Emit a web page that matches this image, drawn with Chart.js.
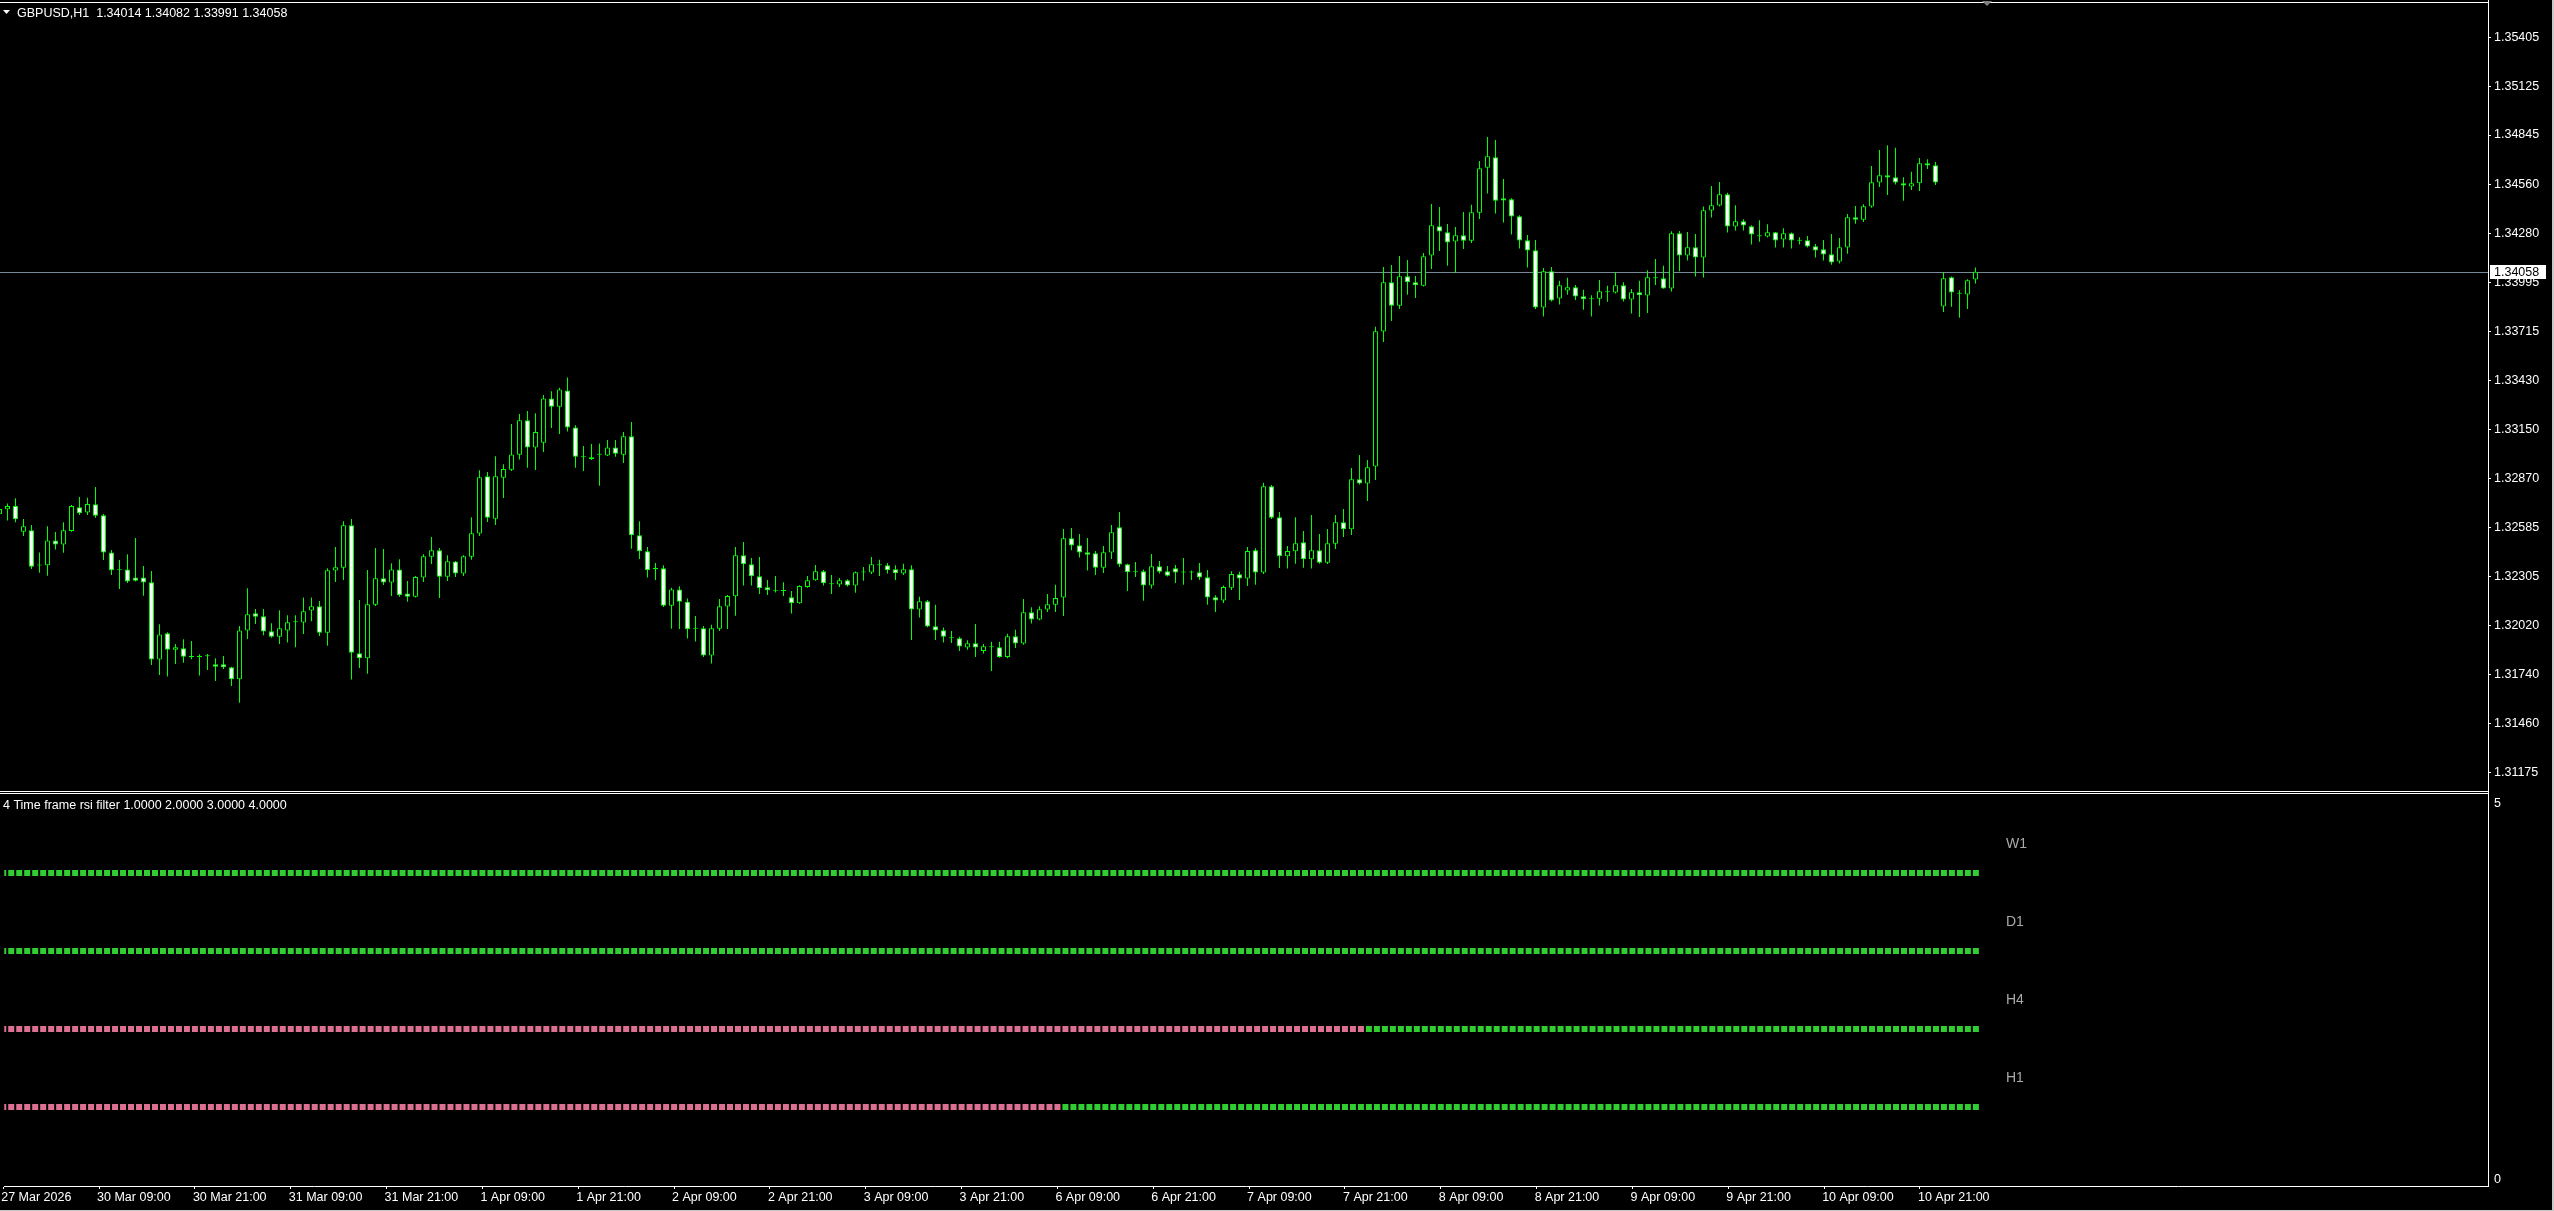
<!DOCTYPE html>
<html><head><meta charset="utf-8">
<script src="https://cdn.jsdelivr.net/npm/chart.js@4.4.1/dist/chart.umd.min.js"></script>
<style>
html,body{margin:0;padding:0;background:#000;overflow:hidden;}
#wrap{position:relative;width:2554px;height:1211px;background:#000;}
canvas{position:absolute;left:0;top:0;}
</style></head><body>
<div id="wrap">
<canvas id="ind" width="2554" height="1211" style="width:2554px;height:1211px"></canvas>
<canvas id="main" width="2554" height="1211" style="width:2554px;height:1211px"></canvas>
</div>
<script>
// ---------- DATA ----------
const symbol = 'GBPUSD,H1';
const indicatorName = 'Time frame rsi filter';

const opens = [
1.32662,1.32691,1.32710,1.32562,1.32570,1.32369,1.32369,1.32512,1.32489,1.32566,
1.32702,1.32672,1.32720,1.32656,1.32443,1.32344,1.32345,1.32298,1.32299,1.32271,
1.31826,1.31977,1.31883,1.31891,1.31845,1.31845,1.31845,1.31799,1.31799,1.31782,
1.31713,1.31994,1.32092,1.32075,1.31989,1.31958,1.31993,1.32041,1.32039,1.32108,
1.32133,1.31981,1.32338,1.32355,1.32599,1.31862,1.31833,1.32142,1.32294,1.32269,
1.32345,1.32207,1.32188,1.32298,1.32418,1.32455,1.32303,1.32390,1.32321,1.32418,
1.32551,1.32881,1.32637,1.32873,1.32919,1.33005,1.33203,1.33046,1.33074,1.33329,
1.33281,1.33375,1.33161,1.32996,1.32990,1.33007,1.33001,1.33046,1.33005,1.33111,
1.32541,1.32449,1.32349,1.32351,1.32136,1.32230,1.32159,1.32006,1.32006,1.31849,
1.32004,1.32131,1.32190,1.32426,1.32375,1.32306,1.32242,1.32223,1.32225,1.32185,
1.32150,1.32244,1.32283,1.32334,1.32263,1.32258,1.32283,1.32252,1.32329,1.32327,
1.32373,1.32369,1.32346,1.32321,1.32346,1.32114,1.32162,1.32018,1.31995,1.31953,
1.31949,1.31895,1.31920,1.31876,1.31901,1.31897,1.31841,1.31960,1.31918,1.32098,
1.32056,1.32114,1.32142,1.32183,1.32524,1.32484,1.32444,1.32438,1.32355,1.32442,
1.32587,1.32375,1.32332,1.32334,1.32252,1.32363,1.32334,1.32352,1.32330,1.32330,
1.32329,1.32300,1.32185,1.32166,1.32240,1.32317,1.32292,1.32455,1.32327,1.32823,
1.32645,1.32421,1.32449,1.32501,1.32403,1.32455,1.32384,1.32493,1.32616,1.32576,
1.32864,1.32839,1.32937,1.33714,1.33998,1.33863,1.34032,1.33998,1.33978,1.34151,
1.34320,1.34285,1.34232,1.34268,1.34237,1.34398,1.34657,1.34717,1.34481,1.34475,
1.34378,1.34240,1.34182,1.33852,1.34061,1.33904,1.33950,1.33969,1.33917,1.33904,
1.33902,1.33944,1.33938,1.33981,1.33898,1.33940,1.33921,1.34025,1.34021,1.33961,
1.34280,1.34151,1.34199,1.34140,1.34410,1.34439,1.34504,1.34318,1.34349,1.34320,
1.34266,1.34261,1.34286,1.34243,1.34280,1.34240,1.34240,1.34205,1.34188,1.34159,
1.34117,1.34197,1.34372,1.34358,1.34433,1.34571,1.34614,1.34602,1.34568,1.34548,
1.34568,1.34683,1.34671,1.33858,1.34027,1.33935,1.33927,1.34014
];
const highs = [
1.32696,1.32725,1.32754,1.32635,1.32601,1.32443,1.32593,1.32560,1.32616,1.32716,
1.32762,1.32758,1.32819,1.32664,1.32457,1.32399,1.32432,1.32526,1.32365,1.32336,
1.32029,1.31983,1.31916,1.31943,1.31933,1.31856,1.31858,1.31833,1.31847,1.31785,
1.32019,1.32236,1.32117,1.32117,1.32035,1.32110,1.32081,1.32081,1.32184,1.32184,
1.32163,1.32351,1.32474,1.32622,1.32635,1.32169,1.32342,1.32468,1.32462,1.32380,
1.32403,1.32278,1.32307,1.32432,1.32532,1.32468,1.32426,1.32393,1.32426,1.32645,
1.32915,1.32906,1.32996,1.32950,1.33182,1.33239,1.33257,1.33243,1.33349,1.33370,
1.33391,1.33450,1.33174,1.33055,1.33067,1.33070,1.33090,1.33090,1.33136,1.33193,
1.32622,1.32474,1.32382,1.32369,1.32240,1.32248,1.32177,1.32077,1.32020,1.32026,
1.32175,1.32198,1.32474,1.32503,1.32411,1.32417,1.32284,1.32307,1.32271,1.32221,
1.32254,1.32307,1.32371,1.32342,1.32313,1.32296,1.32288,1.32333,1.32359,1.32417,
1.32400,1.32382,1.32369,1.32377,1.32369,1.32187,1.32169,1.32141,1.32010,1.31991,
1.31958,1.31937,1.32031,1.31916,1.31928,1.31928,1.31974,1.31997,1.32175,1.32127,
1.32133,1.32204,1.32256,1.32578,1.32584,1.32549,1.32526,1.32451,1.32480,1.32601,
1.32676,1.32378,1.32388,1.32344,1.32434,1.32394,1.32365,1.32371,1.32411,1.32338,
1.32382,1.32342,1.32196,1.32252,1.32334,1.32332,1.32474,1.32467,1.32843,1.32831,
1.32676,1.32480,1.32645,1.32566,1.32658,1.32549,1.32578,1.32658,1.32693,1.32929,
1.33004,1.32975,1.33741,1.34086,1.34097,1.34149,1.34126,1.34034,1.34166,1.34448,
1.34431,1.34333,1.34316,1.34402,1.34443,1.34696,1.34834,1.34817,1.34592,1.34481,
1.34383,1.34270,1.34241,1.34080,1.34086,1.34006,1.34023,1.33982,1.33954,1.33923,
1.34011,1.33977,1.34057,1.33998,1.33959,1.34006,1.34067,1.34132,1.34092,1.34291,
1.34293,1.34287,1.34276,1.34433,1.34552,1.34575,1.34512,1.34441,1.34360,1.34326,
1.34355,1.34332,1.34287,1.34309,1.34284,1.34257,1.34264,1.34218,1.34241,1.34276,
1.34253,1.34391,1.34437,1.34447,1.34667,1.34759,1.34786,1.34771,1.34602,1.34633,
1.34713,1.34706,1.34690,1.34057,1.34031,1.33952,1.34015,1.34082
];
const lows = [
1.32658,1.32626,1.32616,1.32537,1.32347,1.32326,1.32309,1.32459,1.32441,1.32562,
1.32658,1.32658,1.32643,1.32399,1.32313,1.32232,1.32267,1.32275,1.32194,1.31795,
1.31737,1.31728,1.31801,1.31808,1.31828,1.31734,1.31766,1.31703,1.31772,1.31674,
1.31578,1.31945,1.32031,1.31966,1.31952,1.31916,1.31924,1.31897,1.31973,1.32046,
1.31962,1.31906,1.32273,1.32284,1.31711,1.31778,1.31745,1.32134,1.32255,1.32192,
1.32188,1.32159,1.32184,1.32273,1.32376,1.32181,1.32278,1.32301,1.32307,1.32401,
1.32537,1.32618,1.32601,1.32756,1.32911,1.32977,1.32930,1.32917,1.33021,1.33159,
1.33124,1.33138,1.32930,1.32911,1.32975,1.32827,1.32998,1.32994,1.32957,1.32464,
1.32405,1.32298,1.32284,1.32129,1.32004,1.32002,1.31947,1.31930,1.31841,1.31803,
1.31991,1.32002,1.32079,1.32252,1.32252,1.32204,1.32198,1.32212,1.32192,1.32091,
1.32148,1.32240,1.32279,1.32252,1.32204,1.32244,1.32246,1.32210,1.32279,1.32319,
1.32307,1.32321,1.32284,1.32313,1.31939,1.32068,1.32012,1.31939,1.31924,1.31922,
1.31876,1.31882,1.31841,1.31861,1.31761,1.31836,1.31834,1.31893,1.31912,1.32033,
1.32052,1.32100,1.32100,1.32077,1.32455,1.32413,1.32338,1.32313,1.32325,1.32405,
1.32359,1.32221,1.32302,1.32164,1.32235,1.32321,1.32304,1.32267,1.32256,1.32284,
1.32284,1.32141,1.32100,1.32152,1.32227,1.32169,1.32250,1.32256,1.32319,1.32635,
1.32353,1.32350,1.32378,1.32355,1.32350,1.32378,1.32376,1.32463,1.32532,1.32543,
1.32833,1.32739,1.32860,1.33654,1.33775,1.33844,1.33925,1.33907,1.33973,1.34074,
1.34178,1.34092,1.34051,1.34189,1.34224,1.34362,1.34508,1.34393,1.34341,1.34272,
1.34192,1.34082,1.33844,1.33800,1.33887,1.33869,1.33925,1.33896,1.33839,1.33800,
1.33864,1.33885,1.33933,1.33887,1.33818,1.33798,1.33821,1.33982,1.33960,1.33944,
1.34061,1.34123,1.34031,1.34025,1.34370,1.34433,1.34284,1.34295,1.34295,1.34215,
1.34230,1.34255,1.34197,1.34197,1.34192,1.34215,1.34197,1.34140,1.34123,1.34098,
1.34105,1.34161,1.34334,1.34345,1.34427,1.34546,1.34500,1.34560,1.34466,1.34529,
1.34523,1.34650,1.34558,1.33827,1.33856,1.33793,1.33844,1.33991
];
const closes = [
1.32693,1.32710,1.32633,1.32593,1.32361,1.32367,1.32512,1.32489,1.32570,1.32710,
1.32668,1.32721,1.32654,1.32443,1.32340,1.32340,1.32275,1.32280,1.32269,1.31826,
1.31971,1.31883,1.31897,1.31843,1.31841,1.31841,1.31845,1.31785,1.31782,1.31713,
1.31994,1.32087,1.32073,1.31987,1.31958,1.32006,1.32041,1.32041,1.32104,1.32133,
1.31981,1.32340,1.32357,1.32599,1.31866,1.31833,1.32144,1.32294,1.32269,1.32345,
1.32196,1.32188,1.32301,1.32420,1.32455,1.32303,1.32392,1.32321,1.32420,1.32553,
1.32875,1.32643,1.32881,1.32923,1.33007,1.33203,1.33046,1.33136,1.33329,1.33281,
1.33381,1.33161,1.32994,1.32990,1.32980,1.33005,1.33047,1.33011,1.33111,1.32541,
1.32449,1.32340,1.32347,1.32136,1.32230,1.32159,1.32000,1.32004,1.31849,1.32006,
1.32133,1.32192,1.32426,1.32375,1.32306,1.32236,1.32225,1.32219,1.32221,1.32150,
1.32250,1.32283,1.32334,1.32265,1.32259,1.32283,1.32252,1.32329,1.32327,1.32375,
1.32369,1.32340,1.32323,1.32346,1.32114,1.32162,1.32016,1.31993,1.31958,1.31949,
1.31901,1.31920,1.31895,1.31903,1.31897,1.31841,1.31960,1.31918,1.32098,1.32056,
1.32116,1.32144,1.32181,1.32524,1.32482,1.32442,1.32430,1.32355,1.32444,1.32559,
1.32373,1.32329,1.32329,1.32252,1.32363,1.32332,1.32309,1.32327,1.32327,1.32327,
1.32298,1.32183,1.32166,1.32244,1.32319,1.32292,1.32451,1.32327,1.32823,1.32643,
1.32421,1.32451,1.32495,1.32403,1.32455,1.32384,1.32495,1.32616,1.32576,1.32864,
1.32839,1.32933,1.33716,1.33998,1.33863,1.34032,1.33998,1.33980,1.34147,1.34326,
1.34289,1.34226,1.34268,1.34237,1.34400,1.34654,1.34723,1.34467,1.34468,1.34376,
1.34238,1.34180,1.33852,1.34061,1.33892,1.33981,1.33969,1.33915,1.33900,1.33900,
1.33946,1.33940,1.33981,1.33898,1.33940,1.33923,1.34027,1.34021,1.33961,1.34280,
1.34151,1.34199,1.34140,1.34412,1.34441,1.34504,1.34318,1.34349,1.34324,1.34272,
1.34263,1.34286,1.34238,1.34280,1.34238,1.34236,1.34203,1.34180,1.34157,1.34111,
1.34199,1.34372,1.34358,1.34435,1.34573,1.34614,1.34600,1.34571,1.34554,1.34568,
1.34683,1.34669,1.34571,1.34021,1.33938,1.33931,1.34009,1.34058
];

const priceTicks = [1.35405,1.35125,1.34845,1.34560,1.34280,1.33995,1.33715,1.33430,
                    1.33150,1.32870,1.32585,1.32305,1.32020,1.31740,1.31460,1.31175];

const timeLabels = ['27 Mar 2026','30 Mar 09:00','30 Mar 21:00','31 Mar 09:00','31 Mar 21:00',
  '1 Apr 09:00','1 Apr 21:00','2 Apr 09:00','2 Apr 21:00','3 Apr 09:00','3 Apr 21:00',
  '6 Apr 09:00','6 Apr 21:00','7 Apr 09:00','7 Apr 21:00','8 Apr 09:00','8 Apr 21:00',
  '9 Apr 09:00','9 Apr 21:00','10 Apr 09:00','10 Apr 21:00'];
const barsPerLabel = 12;

// indicator: timeframe rows, their buffer level, and first bar where RSI filter is "up"
const tfNames = ['W1','D1','H4','H1'];
const tfLevels = [4, 3, 2, 1];
const tfFirstUpBar = [0, 0, 171, 133];
const indicatorScaleMax = 5;

// ---------- STYLE ----------
const FONT_FAMILY = "'Liberation Sans', Arial, sans-serif";
const FONT = "12.5px " + FONT_FAMILY;
const CANDLE = '#00ff00';
const UP = '#32cd32';
const DOWN = '#db7093';
const PLOT_RIGHT = 2488;

const N = opens.length;
const idx = opens.map((_, i) => i);
const bodyData = idx.map(i => ({x: i, y: [Math.min(opens[i], closes[i]), Math.max(opens[i], closes[i])]}));
const wickData = idx.map(i => ({x: i, y: [lows[i], highs[i]]}));
const bodyFill = idx.map(i => closes[i] < opens[i] ? '#ffffff' : '#000000');
const lastClose = closes[N - 1];
const headerText = symbol + '  ' + [opens[N-1], highs[N-1], lows[N-1], closes[N-1]].map(v => v.toFixed(5)).join(' ');

const mainDecor = {
  id: 'mainDecor',
  beforeDatasetsDraw(chart) {
    const {ctx, chartArea: a, scales: {y}} = chart;
    const py = Math.round(y.getPixelForValue(lastClose)) + 0.5;
    ctx.save();
    ctx.strokeStyle = '#778899'; ctx.lineWidth = 1;
    ctx.beginPath(); ctx.moveTo(a.left, py); ctx.lineTo(a.right, py); ctx.stroke();
    ctx.restore();
  },
  afterDraw(chart) {
    const {ctx, chartArea: a, scales: {y}} = chart;
    ctx.save();
    ctx.fillStyle = '#ffffff';
    ctx.fillRect(0, 2, a.right + 1, 1);
    ctx.fillRect(0, a.bottom, a.right + 1, 1);
    ctx.beginPath(); ctx.moveTo(3, 10); ctx.lineTo(10, 10); ctx.lineTo(6.5, 14); ctx.closePath(); ctx.fill();
    ctx.font = FONT; ctx.textBaseline = 'alphabetic'; ctx.textAlign = 'left';
    ctx.fillText(headerText, 17, 17);
    const py = Math.round(y.getPixelForValue(lastClose));
    ctx.fillRect(a.right + 2, py - 7, 56, 14);
    ctx.fillStyle = '#000000'; ctx.textBaseline = 'middle';
    ctx.fillText(lastClose.toFixed(5), a.right + 6, py + 0.5);
    ctx.fillStyle = '#808080';
    ctx.beginPath(); ctx.moveTo(1982, 1); ctx.lineTo(1992, 1); ctx.lineTo(1987, 6); ctx.closePath(); ctx.fill();
    ctx.restore();
  }
};

new Chart(document.getElementById('main'), {
  type: 'bar',
  data: { datasets: [
    { label: 'body', data: bodyData, backgroundColor: bodyFill, borderColor: CANDLE, borderWidth: 1,
      borderSkipped: false, barThickness: 5, minBarLength: 1, grouped: false, inflateAmount: 0, order: 0 },
    { label: 'wick', data: wickData, backgroundColor: CANDLE, borderWidth: 0,
      barThickness: 1, grouped: false, inflateAmount: 0, order: 1 }
  ]},
  options: {
    responsive: false, animation: false, events: [],
    layout: { padding: { left: 0, top: 0, right: 0, bottom: 1211 - 791 } },
    plugins: { legend: {display: false}, tooltip: {enabled: false} },
    scales: {
      x: { type: 'linear', min: 0.0625, max: 311.0625, display: false, offset: false },
      y: { type: 'linear', position: 'right', min: 1.310697, max: 1.356220,
        afterFit: s => { s.width = 2554 - PLOT_RIGHT; s.paddingTop = 0; s.paddingBottom = 0; },
        afterBuildTicks: s => { s.ticks = priceTicks.map(v => ({value: v})); },
        ticks: { color: '#ffffff', font: {family: FONT_FAMILY, size: 12.5}, padding: 3, autoSkip: false,
                 callback: v => Number(v).toFixed(5) },
        grid: { display: true, drawOnChartArea: false, color: '#ffffff', tickLength: 3 },
        border: { display: true, color: '#ffffff' } }
    }
  },
  plugins: [mainDecor]
});

const indDecor = {
  id: 'indDecor',
  afterDraw(chart) {
    const {ctx, chartArea: a, scales: {y}} = chart;
    ctx.save();
    ctx.fillStyle = '#ffffff';
    ctx.fillRect(0, a.top - 1, a.right + 1, 1);
    ctx.fillRect(a.right, a.top - 4, 1, 4);
    ctx.font = FONT; ctx.textAlign = 'left'; ctx.textBaseline = 'alphabetic';
    ctx.fillText(tfLevels.length + ' ' + indicatorName + ' ' + tfLevels.slice().sort((p, q) => p - q).map(v => v.toFixed(4)).join(' '), 3, 809);
    ctx.fillText(String(indicatorScaleMax), a.right + 6, a.top + 13);
    ctx.fillText('0', a.right + 6, a.bottom - 3);
    ctx.fillStyle = '#a9a9a9';
    ctx.font = '14px ' + FONT_FAMILY;
    tfNames.forEach((n, k) => {
      ctx.fillText(n, 2006, y.getPixelForValue(tfLevels[k]) - 25.5);
    });
    ctx.fillStyle = '#c8c8c8';
    ctx.fillRect(2552, 0, 2, 1211);
    ctx.fillRect(0, 1210, 2554, 1);
    ctx.restore();
  }
};

new Chart(document.getElementById('ind'), {
  type: 'scatter',
  data: { datasets: tfNames.map((n, k) => ({
    label: n,
    data: idx.map(i => ({x: i, y: tfLevels[k]})),
    pointStyle: 'rect', pointRadius: 4.24265, pointBorderWidth: 0,
    pointBackgroundColor: idx.map(i => i >= tfFirstUpBar[k] ? UP : DOWN),
    showLine: false
  })) },
  options: {
    responsive: false, animation: false, events: [],
    layout: { padding: { left: 0, top: 794, right: 0, bottom: 0 } },
    plugins: { legend: {display: false}, tooltip: {enabled: false} },
    scales: {
      x: { type: 'linear', position: 'bottom', min: 0.125, max: 311.125,
        afterFit: s => { s.height = 25; s.paddingLeft = 0; s.paddingRight = 0; },
        afterBuildTicks: s => { s.ticks = timeLabels.map((_, k) => ({value: k * barsPerLabel})); },
        ticks: { color: '#ffffff', font: {family: FONT_FAMILY, size: 12.5}, align: 'start', maxRotation: 0,
                 minRotation: 0, autoSkip: false, padding: 1, labelOffset: -2,
                 callback: (v, k) => timeLabels[k] },
        grid: { display: true, drawOnChartArea: false, color: '#ffffff', tickLength: 3 },
        border: { display: true, color: '#ffffff' } },
      y: { type: 'linear', position: 'right', min: -0.01282, max: 5.01282,
        afterFit: s => { s.width = 2554 - PLOT_RIGHT; s.paddingTop = 0; s.paddingBottom = 0; },
        ticks: { display: false },
        grid: { display: false },
        border: { display: true, color: '#ffffff' } }
    }
  },
  plugins: [indDecor]
});
</script>
</body></html>
